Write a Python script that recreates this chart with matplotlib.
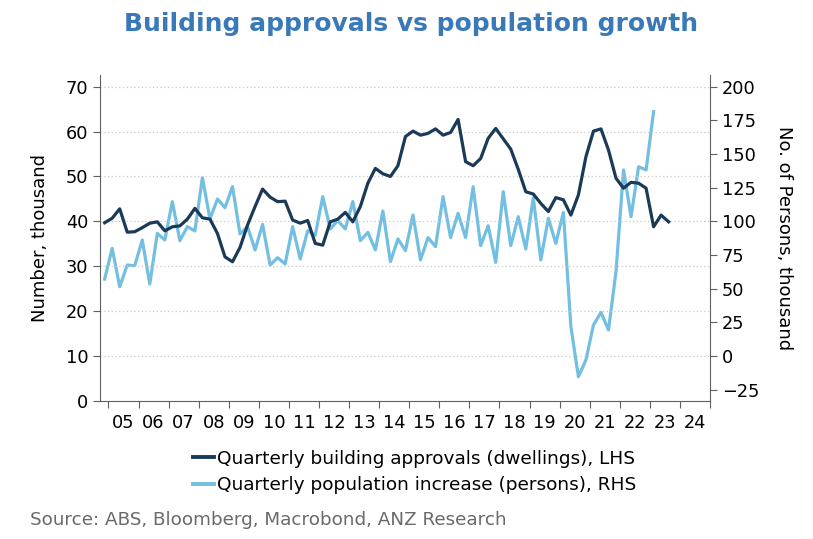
import numpy as np
import matplotlib
matplotlib.use("Agg")
import matplotlib.pyplot as plt
from matplotlib.ticker import FixedLocator, NullFormatter, FixedFormatter

# quarterly building approvals (dwellings, thousand), from Q4 2004
approvals = [39.7, 40.7, 42.8, 37.6, 37.7, 38.6, 39.6, 39.9, 37.9, 38.8,
             39.0, 40.5, 42.9, 40.8, 40.5, 37.3, 32.1, 31.0, 34.2, 39.2,
             43.3, 47.2, 45.4, 44.4, 44.5, 40.3, 39.6, 40.2, 35.1, 34.7,
             39.9, 40.5, 42.0, 39.9, 43.3, 48.5, 51.8, 50.6, 50.0, 52.4,
             58.9, 60.1, 59.2, 59.6, 60.6, 59.2, 59.8, 62.7, 53.3, 52.4,
             54.0, 58.5, 60.7, 58.4, 56.1, 51.6, 46.6, 46.1, 44.0, 42.2,
             45.3, 44.8, 41.4, 45.9, 54.4, 60.1, 60.6, 55.9, 49.6, 47.4,
             48.7, 48.5, 47.4, 38.8, 41.4, 39.9]

# quarterly population increase (persons, thousand), from Q4 2004
population = [57.2, 80.0, 51.5, 67.6, 67.1, 86.2, 53.5, 91.1, 86.2, 114.7,
              85.7, 96.1, 92.9, 132.5, 101.8, 116.6, 110.2, 125.8, 90.7, 96.1,
              78.8, 97.8, 67.6, 73.1, 68.4, 96.1, 72.1, 93.1, 89.6, 118.4,
              94.4, 100.6, 94.4, 114.7, 85.7, 91.9, 78.8, 107.7, 70.1, 87.0,
              78.3, 104.8, 71.4, 88.0, 81.3, 118.4, 88.0, 106.0, 88.0, 125.8,
              82.0, 96.8, 69.6, 122.1, 82.0, 103.5, 79.5, 117.6, 71.4, 102.3,
              83.7, 106.7, 21.9, -15.3, -2.9, 23.1, 32.5, 19.4, 62.7, 138.2,
              103.5, 140.6, 138.2, 181.5]

years = list(range(2005, 2025))
year_labels = ["%02d" % (y % 100) for y in years]

x_app = 2004.875 + 0.25 * np.arange(len(approvals))
x_pop = 2004.875 + 0.25 * np.arange(len(population))

dark = "#1b3a57"
light = "#73bfe2"
axis_grey = "#606060"

plt.rcParams["font.family"] = "DejaVu Sans"

fig = plt.figure(figsize=(8.13, 5.39), dpi=100)
ax = fig.add_axes([100 / 813, 1 - 401 / 539, 610 / 813, 326 / 539])
ax2 = ax.twinx()

ax.plot(x_app, approvals, color=dark, lw=2.3, zorder=3)
ax2.plot(x_pop, population, color=light, lw=2.3, zorder=2)
ax.set_zorder(ax2.get_zorder() + 1)
ax.patch.set_visible(False)

ax.set_xlim(2004.72, 2025)
ax.set_ylim(0, 72.6)
ax2.set_ylim(-33.33, 208.7)

ax.set_yticks(range(0, 80, 10))
ax2.set_yticks(range(-25, 225, 25))
ax.grid(axis="y", color="#c8c8c8", ls=(0, (1, 2)), lw=0.9)

ax.xaxis.set_major_locator(FixedLocator(range(2005, 2026)))
ax.xaxis.set_major_formatter(NullFormatter())
ax.xaxis.set_minor_locator(FixedLocator([y + 0.5 for y in years]))
ax.xaxis.set_minor_formatter(FixedFormatter(year_labels))
ax.tick_params(axis="x", which="major", length=5, direction="out", color=axis_grey)
ax.tick_params(axis="x", which="minor", length=0, labelsize=12.8, pad=9)
ax.tick_params(axis="y", length=5, color=axis_grey, labelsize=12.8)
ax2.tick_params(axis="y", length=5, color=axis_grey, labelsize=12.8)

for a in (ax, ax2):
    a.spines["top"].set_visible(False)
    for s in ("left", "right", "bottom"):
        a.spines[s].set_color(axis_grey)
ax.spines["right"].set_visible(False)
ax2.spines["left"].set_visible(False)
ax2.spines["bottom"].set_visible(False)

ax.set_ylabel("Number, thousand", fontsize=13, labelpad=12)
ax2.set_ylabel("No. of Persons, thousand", fontsize=13, rotation=270, labelpad=24)

fig.text(0.505, 0.955, "Building approvals vs population growth", ha="center", va="center",
         fontsize=18, fontweight="bold", color="#3a79b8")

handles = [plt.Line2D([], [], color=dark, lw=2.8),
           plt.Line2D([], [], color=light, lw=2.8)]
fig.legend(handles, ["Quarterly building approvals (dwellings), LHS",
                     "Quarterly population increase (persons), RHS"],
           loc="upper center", bbox_to_anchor=(0.51, 1 - 433 / 539), frameon=False,
           fontsize=13.3, handlelength=1.1, handletextpad=0.15, labelspacing=0.48)

fig.text(30 / 813, 1 - 520 / 539, "Source: ABS, Bloomberg, Macrobond, ANZ Research",
         fontsize=13.2, color="#6a6a6a", va="center")

fig.savefig("out.png", dpi=100)
